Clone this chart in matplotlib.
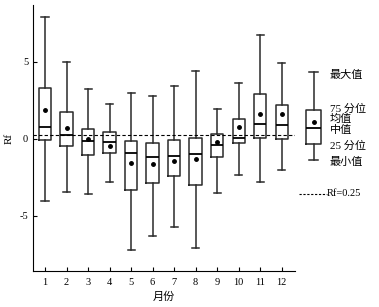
import matplotlib
matplotlib.use("Agg")
import matplotlib.pyplot as plt
from matplotlib.lines import Line2D

plt.rcParams['font.family'] = ['Liberation Serif', 'Noto Sans CJK SC']

months = [1, 2, 3, 4, 5, 6, 7, 8, 9, 10, 11, 12]
month_labels = [str(m) for m in months]
whis_hi = [7.89, 5.00, 3.24, 2.27, 2.98, 2.79, 3.46, 4.41, 1.94, 3.63, 6.76, 4.96]
q3 = [3.31, 1.75, 0.66, 0.44, -0.14, -0.25, -0.05, 0.03, 0.34, 1.31, 2.92, 2.20]
means = [1.90, 0.73, 0.01, -0.49, -1.58, -1.66, -1.42, -1.31, -0.21, 0.77, 1.61, 1.61]
medians = [0.77, 0.25, -0.14, -0.21, -0.92, -1.18, -1.14, -0.96, -0.38, 0.05, 0.96, 0.88]
q1 = [-0.10, -0.49, -1.07, -0.90, -3.35, -2.85, -2.44, -2.98, -1.20, -0.27, 0.08, 0.01]
whis_lo = [-4.05, -3.48, -3.61, -2.81, -7.21, -6.35, -5.74, -7.13, -3.50, -2.38, -2.81, -2.01]
rf_ref = 0.25

# legend sample box
legend_stats = dict(whishi=4.35, q3=1.90, mean=1.07, med=0.73, q1=-0.31, whislo=-1.35)
legend_labels = ['最大值', '75 分位', '均值', '中值', '25 分位', '最小值']

W, H = 379, 307
fig = plt.figure(figsize=(W / 100, H / 100), dpi=100)
ax = fig.add_axes([33 / W, 36 / H, (295 - 33) / W, (271 - 5) / H])

stats = []
for i in range(len(months)):
    stats.append(dict(med=medians[i], q1=q1[i], q3=q3[i], whislo=whis_lo[i],
                      whishi=whis_hi[i], mean=means[i], fliers=[]))

lc = '#2a2a2a'
common = dict(showmeans=True, showfliers=False,
              boxprops=dict(color=lc, linewidth=1.1),
              whiskerprops=dict(color=lc, linewidth=1.1),
              capprops=dict(color=lc, linewidth=1.1),
              medianprops=dict(color='black', linewidth=1.3),
              meanprops=dict(marker='o', markerfacecolor='black', markeredgecolor='black', markersize=2.5),
              manage_ticks=False)
ax.bxp(stats, positions=months, widths=0.57, capwidths=0.33, **common)

ax.axhline(rf_ref, color='black', linestyle=(0, (3, 2)), linewidth=0.8)

ax.set_xticks(months)
ax.set_xticklabels(month_labels)
ax.set_yticks([-5, 0, 5])
ax.set_yticklabels(['-5', '0', '5'])
ax.spines['top'].set_visible(False)
ax.spines['right'].set_visible(False)
ax.tick_params(direction='in', length=3, labelsize=7.5, width=0.8)
ax.tick_params(axis='x', pad=5)
ax.set_ylabel('Rf', fontsize=8, labelpad=4)
ax.set_xlabel('月份', fontsize=8, labelpad=3, family=['Noto Sans CJK SC'])

# legend box drawn outside axes
lstat = dict(legend_stats, fliers=[])
art = ax.bxp([lstat], positions=[13.5], widths=0.7, capwidths=0.42, **common)
for k, v in art.items():
    for a in v:
        a.set_clip_on(False)
ax.set_xlim(0.44, 12.62)
ax.set_ylim(-8.6, 8.7)

label_y = [75, 109, 119, 130, 146, 162]
for lab, yy in zip(legend_labels, label_y):
    fig.text(330 / W, 1 - yy / H, lab, fontsize=8, va='center', ha='left',
             family=['Liberation Serif', 'Noto Sans CJK SC'])

fig.add_artist(Line2D([299 / W, 327 / W], [1 - 194 / H, 1 - 194 / H], color='black',
                      linestyle=(0, (2, 1.5)), linewidth=0.8))
fig.text(327 / W, 1 - 194 / H, 'Rf=0.25', fontsize=7.5, va='center', ha='left')

fig.savefig('out.png', dpi=100)
